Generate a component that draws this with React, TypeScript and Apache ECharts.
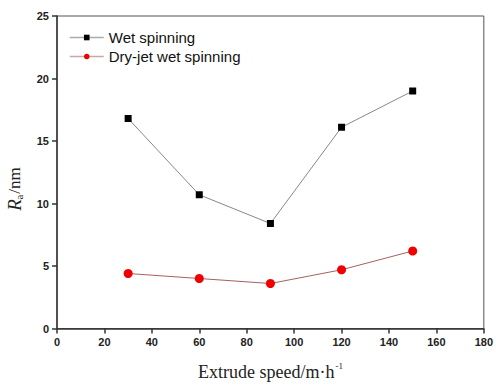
import React, { useEffect, useRef } from "react";
import * as echarts from "echarts";

const speeds = [30, 60, 90, 120, 150];
const wetSpinning = [16.8, 10.7, 8.4, 16.1, 19.0];
const dryJetWetSpinning = [4.4, 4.0, 3.6, 4.7, 6.2];
const seriesNames = ["Wet spinning", "Dry-jet wet spinning"];

export default function App() {
  const ref = useRef<HTMLDivElement>(null);
  useEffect(() => {
    if (!ref.current) return;
    const chart = echarts.init(ref.current, null, { renderer: "svg" });
    const tickLabel = { color: "#222", fontFamily: "Arial, Liberation Sans, sans-serif", fontWeight: "bold", fontSize: 11 };
    const serif = "Liberation Serif, DejaVu Serif, serif";
    chart.setOption({
      animation: false,
      grid: { left: 57, right: 9, top: 16, bottom: 53, show: true, borderColor: "#555", borderWidth: 1 },
      legend: {
        left: 64,
        top: 25,
        orient: "vertical",
        itemGap: 4,
        itemWidth: 34,
        itemHeight: 7,
        textStyle: { fontFamily: "Arial, Liberation Sans, sans-serif", fontSize: 15, color: "#111" },
        data: [
          { name: seriesNames[0], lineStyle: { color: "#aaa", width: 1.5 }, itemStyle: { color: "#000" } },
          { name: seriesNames[1], lineStyle: { color: "#c8a8a8", width: 1.5 }, itemStyle: { color: "#f00000" } },
        ],
      },
      graphic: [
        {
          type: "text",
          x: 5,
          y: 189,
          rotation: Math.PI / 2,
          style: {
            text: "{i|R}{sub|a}{n|/nm}",
            align: "center",
            verticalAlign: "top",
            rich: {
              i: { fontStyle: "italic", fontSize: 19, fontFamily: serif, fill: "#222" },
              sub: { fontSize: 10, fontFamily: serif, fill: "#222", padding: [9, 1, 0, 0] },
              n: { fontSize: 17, fontFamily: serif, fill: "#222" },
            },
          },
        },
      ],
      xAxis: {
        type: "value",
        min: 0,
        max: 180,
        interval: 20,
        name: "{t|Extrude speed/m·h}{sup|-1}",
        nameLocation: "middle",
        nameGap: 33,
        nameTextStyle: {
          rich: {
            t: { fontFamily: serif, fontSize: 18, color: "#222" },
            sup: { fontSize: 9, padding: [0, 0, 12, 1], fontFamily: serif, color: "#222" },
          },
        },
        axisLine: { show: true, lineStyle: { color: "#333", width: 1.5 } },
        axisTick: { show: true, inside: false, length: 5, lineStyle: { color: "#333", width: 1.5 } },
        axisLabel: { ...tickLabel, margin: 8 },
        splitLine: { show: false },
      },
      yAxis: {
        type: "value",
        min: 0,
        max: 25,
        interval: 5,
        axisLine: { show: true, lineStyle: { color: "#333", width: 1.5 } },
        axisTick: { show: true, inside: false, length: 5, lineStyle: { color: "#333", width: 1.5 } },
        axisLabel: { ...tickLabel, margin: 8 },
        splitLine: { show: false },
      },
      series: [
        {
          name: seriesNames[0],
          type: "line",
          data: speeds.map((s, i) => [s, wetSpinning[i]]),
          symbol: "rect",
          symbolSize: 7,
          itemStyle: { color: "#000" },
          lineStyle: { color: "#888", width: 1 },
        },
        {
          name: seriesNames[1],
          type: "line",
          data: speeds.map((s, i) => [s, dryJetWetSpinning[i]]),
          symbol: "circle",
          symbolSize: 9,
          itemStyle: { color: "#f00000" },
          lineStyle: { color: "#a86060", width: 1 },
        },
      ],
    });
    return () => chart.dispose();
  }, []);
  return <div ref={ref} style={{ width: 496, height: 386, position: "absolute", left: 0, top: 0 }} />;
}
